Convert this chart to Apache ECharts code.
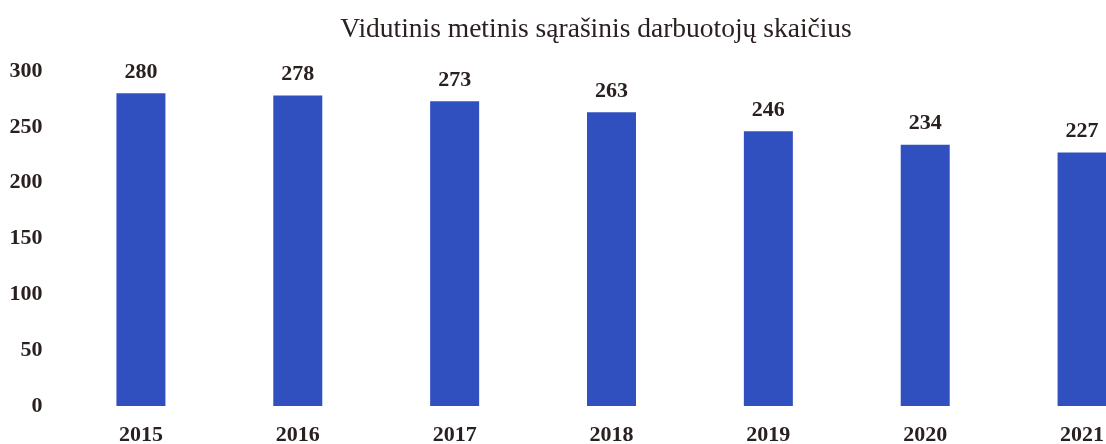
<!DOCTYPE html>
<html>
<head>
<meta charset="utf-8">
<script src="https://cdn.jsdelivr.net/npm/echarts@6/dist/echarts.min.js"></script>
<style>html,body{margin:0;padding:0;background:#fff;}#c{width:1106px;height:444px;}</style>
</head>
<body>
<div id="c"></div>
<script>
const titleText = 'Vidutinis metinis sąrašinis darbuotojų skaičius';
const categories = ['2015', '2016', '2017', '2018', '2019', '2020', '2021'];
const values = [280, 278, 273, 263, 246, 234, 227];
const yTicks = { min: 0, max: 300, interval: 50 };

const font = '"Liberation Serif", "Times New Roman", serif';
const textColor = '#2a2020';
const chart = echarts.init(document.getElementById('c'), null, { renderer: 'canvas' });
chart.setOption({
  backgroundColor: '#ffffff',
  animation: false,
  title: {
    text: titleText,
    left: 591,
    top: 11,
    textAlign: 'center',
    textStyle: { fontFamily: font, fontWeight: 'normal', fontSize: 27.5, color: textColor }
  },
  grid: { left: 62.5, right: -54.5, top: 71, bottom: 38, containLabel: false, outerBoundsMode: 'none' },
  xAxis: {
    type: 'category',
    data: categories,
    axisLine: { show: false },
    axisTick: { show: false },
    axisLabel: { fontFamily: font, fontWeight: 'bold', fontSize: 22, color: textColor, margin: 18 }
  },
  yAxis: {
    type: 'value',
    min: yTicks.min, max: yTicks.max, interval: yTicks.interval,
    splitLine: { show: false },
    axisLine: { show: false },
    axisTick: { show: false },
    axisLabel: { fontFamily: font, fontWeight: 'bold', fontSize: 22, color: textColor, margin: 20 }
  },
  series: [{
    type: 'bar',
    data: values,
    barWidth: 49,
    itemStyle: { color: '#3050c0' },
    label: {
      show: true, position: 'top', distance: 10,
      fontFamily: font, fontWeight: 'bold', fontSize: 22, color: textColor
    }
  }]
});
</script>
</body>
</html>
